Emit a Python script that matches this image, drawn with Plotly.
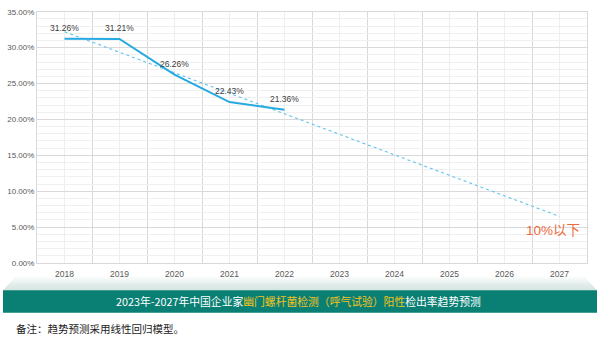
import plotly.graph_objects as go

# ---- data ----
years = ["2018", "2019", "2020", "2021", "2022", "2023", "2024", "2025", "2026", "2027"]
actual_years = ["2018", "2019", "2020", "2021", "2022"]
actual_rate = [31.26, 31.21, 26.26, 22.43, 21.36]
trend_years = ["2018", "2027"]
trend_rate = [32.22, 6.50]
forecast_label = "10%以下"
y_ticks = [0, 5, 10, 15, 20, 25, 30, 35]

W, H = 600, 343
def px(x):
    return x / W
def py(y):
    return 1 - y / H

xi = {y: i for i, y in enumerate(years)}

fig = go.Figure()

fig.add_trace(go.Scatter(
    x=[xi[y] for y in trend_years], y=trend_rate, mode="lines",
    line=dict(color="#5ec3ee", width=1.1, dash="dot"),
    hoverinfo="skip", showlegend=False))

fig.add_trace(go.Scatter(
    x=[xi[y] for y in actual_years], y=actual_rate, mode="lines",
    line=dict(color="#27a9e1", width=2),
    hoverinfo="skip", showlegend=False))

for yr, v in zip(actual_years, actual_rate):
    fig.add_annotation(
        x=xi[yr], y=v, xref="x", yref="y", text=f"{v:.2f}%", showarrow=False,
        yanchor="middle", xanchor="center", yshift=11,
        font=dict(family="Liberation Sans", size=8.5, color="#404040"))

fig.add_annotation(
    x=xi[trend_years[-1]], y=trend_rate[-1], xref="x", yref="y",
    text=forecast_label, showarrow=False, yshift=-14, xshift=-7,
    yanchor="middle", xanchor="center",
    font=dict(family="Liberation Sans, Noto Sans CJK SC", size=13.5, color="#ee6a3c"))

# ---- decorative bottom band ----
shapes = []
n = 14
y_top, y_bot = 279, 294
xl_top, xl_bot = 16, 3
xr_top, xr_bot = 584, 597
c0 = (255, 255, 255)
c1 = (208, 226, 222)
for i in range(n):
    t0 = i / n
    t1 = (i + 1) / n
    ya = y_top + (y_bot - y_top) * t0
    yb = y_top + (y_bot - y_top) * t1
    xla = xl_top + (xl_bot - xl_top) * t0
    xlb = xl_top + (xl_bot - xl_top) * t1
    xra = xr_top + (xr_bot - xr_top) * t0
    xrb = xr_top + (xr_bot - xr_top) * t1
    tm = (t0 + t1) / 2
    col = "rgb(%d,%d,%d)" % tuple(round(c0[k] + (c1[k] - c0[k]) * tm) for k in range(3))
    path = "M %f %f L %f %f L %f %f L %f %f Z" % (
        px(xla), py(ya), px(xra), py(ya), px(xrb), py(yb + 0.6), px(xlb), py(yb + 0.6))
    shapes.append(dict(type="path", path=path, xref="paper", yref="paper",
                       fillcolor=col, line=dict(width=0), layer="below"))

shapes.append(dict(type="rect", xref="paper", yref="paper",
                   x0=px(3), x1=px(597), y0=py(317), y1=py(294),
                   fillcolor="#0a8074", line=dict(width=0), layer="below"))

fig.add_annotation(
    x=px(298), y=py(305.5), xref="paper", yref="paper", showarrow=False,
    xanchor="center", yanchor="middle",
    text=("<span style='color:#ffffff'>2023年-2027年中国企业家</span>"
          "<span style='color:#f3c41c'>幽门螺杆菌检测（呼气试验）阳性</span>"
          "<span style='color:#ffffff'>检出率趋势预测</span>"),
    font=dict(family="Noto Sans CJK SC", size=10.8, color="#ffffff"))

fig.add_annotation(
    x=px(14), y=py(333), xref="paper", yref="paper", showarrow=False,
    xanchor="left", yanchor="middle", text="备注：趋势预测采用线性回归模型。",
    font=dict(family="Noto Sans CJK SC", size=10.5, color="#1a1a1a"))

fig.update_layout(
    width=W, height=H, margin=dict(l=0, r=0, t=0, b=0),
    paper_bgcolor="white", plot_bgcolor="white",
    shapes=shapes,
    xaxis=dict(
        domain=[px(37), px(587)], range=[-0.5, len(years) - 0.5],
        tickmode="array", tickvals=list(range(len(years))), ticktext=years,
        showgrid=True, gridcolor="#eeeeee", gridwidth=1,
        minor=dict(tickmode="linear", tick0=0.5, dtick=1, showgrid=True,
                   gridcolor="#d9d9d9", gridwidth=1),
        showline=True, linecolor="#d9d9d9", mirror=True, zeroline=False,
        ticks="", ticklabelstandoff=3,
        tickfont=dict(family="Liberation Sans", size=8.5, color="#595959"),
        fixedrange=True),
    yaxis=dict(
        domain=[py(266), py(8)], range=[0, 35],
        tickmode="array", tickvals=y_ticks, ticktext=[f"{v:.2f}%" for v in y_ticks],
        showgrid=True, gridcolor="#d9d9d9", gridwidth=1,
        minor=dict(tickmode="linear", tick0=0, dtick=1, showgrid=True,
                   gridcolor="#f0f0f0", gridwidth=1),
        showline=True, linecolor="#d9d9d9", mirror=True, zeroline=False,
        ticks="", tickfont=dict(family="Liberation Sans", size=8, color="#595959"),
        fixedrange=True),
)

fig.write_html("out.html")
